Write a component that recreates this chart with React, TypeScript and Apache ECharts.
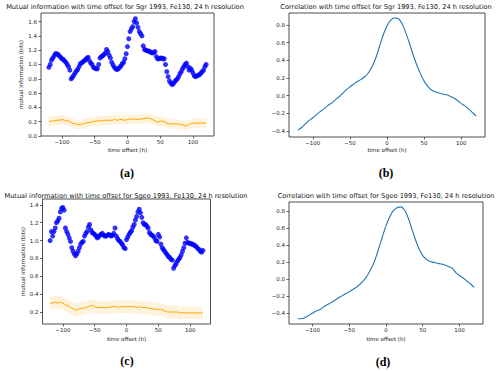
import React, { useEffect, useRef } from "react";
import * as echarts from "echarts";

// time-offset grids (hours)
const miOffsets = Array.from({ length: 121 }, (_, i) => -120 + 2 * i);
const nullOffsets = Array.from({ length: 61 }, (_, i) => -120 + 4 * i);
const corrOffsets = Array.from({ length: 49 }, (_, i) => -120 + 5 * i);

// (a) mutual information, Sgr 1993
const miSgr = [
  0.96, 1.0, 1.06, 1.09, 1.12, 1.15, 1.15, 1.14, 1.12, 1.1, 1.08,
  1.07, 1.05, 1.03, 1.0, 0.97, 0.92, 0.8, 0.82, 0.85, 0.88,
  0.91, 0.93, 0.97, 1.01, 1.02, 1.04, 1.05, 1.07, 1.09, 1.1,
  1.05, 1.02, 1.0, 0.96, 0.95, 0.94, 0.94, 1.0, 1.09, 1.11,
  1.12, 1.14, 1.16, 1.21, 1.18, 1.13, 1.09, 1.03, 0.99, 0.96,
  0.94, 0.93, 0.94, 0.96, 0.98, 1.01, 1.03, 1.08, 1.15, 1.25,
  1.36, 1.46, 1.5, 1.53, 1.6, 1.64, 1.58, 1.52, 1.46, 1.43,
  1.4, 1.26, 1.21, 1.2, 1.19, 1.19, 1.18, 1.17, 1.16, 1.17,
  1.18, 1.11, 1.08, 1.08, 1.09, 1.09, 1.08, 1.08, 1.0, 0.9,
  0.83, 0.77, 0.74, 0.72, 0.73, 0.76, 0.78, 0.8, 0.83, 0.87,
  0.9, 0.94, 0.97, 1.0, 1.02, 0.97, 0.92, 0.95, 0.92, 0.88,
  0.84, 0.83, 0.84, 0.85, 0.86, 0.88, 0.9, 0.92, 0.97, 1.0,
];
const nullSgr = [
  0.2, 0.21, 0.21, 0.22, 0.22, 0.23, 0.22, 0.21, 0.2, 0.18,
  0.17, 0.16, 0.16, 0.17, 0.18, 0.19, 0.19, 0.2, 0.21, 0.21,
  0.21, 0.22, 0.22, 0.22, 0.22, 0.23, 0.22, 0.23, 0.23, 0.22,
  0.23,
  0.24, 0.23, 0.24, 0.23, 0.24, 0.24, 0.25, 0.25, 0.24, 0.22,
  0.2, 0.2, 0.21, 0.2, 0.18, 0.17, 0.17, 0.17, 0.17, 0.16,
  0.16, 0.14, 0.15, 0.17, 0.18, 0.18, 0.18, 0.18, 0.18, 0.18,
];
const nullSpreadSgr = 0.065;

// (b) correlation, Sgr 1993
const corrSgr = [
  -0.39, -0.36, -0.32, -0.28, -0.25, -0.215, -0.18, -0.15, -0.115, -0.085,
  -0.05, -0.015, 0.025, 0.065, 0.1, 0.13, 0.16, 0.185, 0.215, 0.26,
  0.33, 0.43, 0.56, 0.69, 0.79, 0.855, 0.88, 0.875, 0.82, 0.72,
  0.6, 0.47, 0.35, 0.25, 0.165, 0.105, 0.065, 0.045, 0.03, 0.02,
  0.01, -0.005, -0.025, -0.055, -0.09, -0.115, -0.15, -0.19, -0.23,
];

// (c) mutual information, Sgeo 1993
const miSgeo = [
  1.0, 1.1, 1.05, 1.1, 1.14, 1.2, 1.22, 1.25, 1.32, 1.36, 1.37,
  1.34, 1.14, 1.1, 1.07, 1.03, 0.99, 0.92, 0.88, 0.85, 0.83,
  0.85, 0.88, 0.92, 0.96, 0.98, 0.99, 1.05, 1.08, 1.1, 1.15,
  1.18, 1.12, 1.09, 1.08, 1.07, 1.05, 1.03, 1.04, 1.06, 1.07,
  1.08, 1.06, 1.05, 1.05, 1.06, 1.07, 1.06, 1.05, 1.06, 1.08,
  1.14, 1.05, 1.02, 1.0, 0.99, 0.97, 0.95, 0.92, 0.91, 1.01,
  1.04, 1.07, 1.09, 1.11, 1.15, 1.18, 1.23, 1.27, 1.32, 1.35,
  1.31, 1.26, 1.2, 1.18, 1.18, 1.16, 1.14, 1.09, 1.07, 1.06,
  1.05, 1.03, 1.0, 0.99, 1.07, 1.04, 0.96, 0.92, 0.9, 0.88,
  0.86, 0.84, 0.82, 0.81, 0.79, 0.78, 0.69, 0.72, 0.74, 0.77,
  0.79, 0.81, 0.84, 0.88, 0.92, 0.97, 1.03, 0.98, 0.97, 0.97,
  0.96, 0.96, 0.95, 0.94, 0.93, 0.91, 0.9, 0.88, 0.87, 0.89,
];
const nullSgeo = [
  0.3, 0.3, 0.31, 0.3, 0.31, 0.3, 0.28, 0.27, 0.25, 0.24,
  0.22, 0.23, 0.24, 0.24, 0.25, 0.26, 0.27, 0.27, 0.25, 0.25,
  0.25, 0.25, 0.25, 0.25, 0.26, 0.26, 0.26, 0.25, 0.26, 0.26,
  0.26,
  0.26, 0.26, 0.26, 0.25, 0.26, 0.25, 0.25, 0.25, 0.24, 0.24,
  0.23, 0.23, 0.23, 0.23, 0.21, 0.2, 0.2, 0.2, 0.2, 0.2,
  0.19, 0.19, 0.19, 0.19, 0.19, 0.19, 0.19, 0.19, 0.19, 0.19,
];
const nullSpreadSgeo = 0.072;

// (d) correlation, Sgeo 1993
const corrSgeo = [
  -0.465, -0.465, -0.45, -0.425, -0.4, -0.375, -0.36, -0.325, -0.3, -0.275,
  -0.25, -0.22, -0.195, -0.17, -0.145, -0.12, -0.09, -0.055, -0.01, 0.05,
  0.13, 0.23, 0.36, 0.5, 0.63, 0.735, 0.81, 0.845, 0.855, 0.82,
  0.73, 0.6, 0.47, 0.36, 0.28, 0.235, 0.21, 0.2, 0.19, 0.18,
  0.17, 0.15, 0.13, 0.08, 0.045, 0.015, -0.02, -0.055, -0.095,
];

// tick labels
const xTicks = [-100, -50, 0, 50, 100];
const yTicksA = [0, 0.2, 0.4, 0.6, 0.8, 1.0, 1.2, 1.4, 1.6];
const yTicksB = [-0.4, -0.2, 0, 0.2, 0.4, 0.6, 0.8];
const yTicksC = [0.2, 0.4, 0.6, 0.8, 1.0, 1.2, 1.4];
const yTicksD = [-0.4, -0.2, 0, 0.2, 0.4, 0.6, 0.8];

const panelTitles = [
  "Mutual information with time offset for Sgr 1993, Fe130, 24 h resolution",
  "Correlation with time offset for Sgr 1993, Fe130, 24 h resolution",
  "Mutual information with time offset for Sgeo 1993, Fe130, 24 h resolution",
  "Correlation with time offset for Sgeo 1993, Fe130, 24 h resolution",
];
const captions = ["(a)", "(b)", "(c)", "(d)"];
const xName = "time offset (h)";
const yNameMI = "mutual information (bits)";

const FONT = "DejaVu Sans";
const TEXT = "#222";
const minus = (s: string) => s.replace("-", "\u2212");

function xAxisCfg(gridIndex: number, gap: number) {
  return {
    type: "value",
    gridIndex,
    min: -132,
    max: 132,
    name: xName,
    nameLocation: "middle",
    nameGap: gap,
    nameTextStyle: { fontFamily: FONT, fontSize: 5.5, color: TEXT },
    axisLine: { show: false, onZero: false },
    splitLine: { show: false },
    axisTick: { show: true, length: 2.5, customValues: xTicks, lineStyle: { color: TEXT, width: 0.7 } },
    axisLabel: {
      customValues: xTicks,
      margin: 3,
      fontFamily: FONT,
      fontSize: 5.5,
      color: TEXT,
      formatter: (v: number) => minus(String(Math.round(v))),
    },
  };
}

function yAxisCfg(gridIndex: number, min: number, max: number, ticks: number[], name?: string) {
  return {
    type: "value",
    gridIndex,
    min,
    max,
    name: name || "",
    nameLocation: "middle",
    nameGap: 16,
    nameTextStyle: { fontFamily: FONT, fontSize: 5.5, color: TEXT },
    axisLine: { show: false, onZero: false },
    splitLine: { show: false },
    axisTick: { show: true, length: 2.5, customValues: ticks, lineStyle: { color: TEXT, width: 0.7 } },
    axisLabel: {
      customValues: ticks,
      margin: 4,
      fontFamily: FONT,
      fontSize: 5.5,
      color: TEXT,
      formatter: (v: number) => minus(Number(v).toFixed(1)),
    },
  };
}

// shaded band (mean ± spread) drawn as one polygon through the axis scales
function bandSeries(idx: number, mean: number[], spread: number) {
  return [
    {
      type: "custom",
      xAxisIndex: idx,
      yAxisIndex: idx,
      silent: true,
      data: [[0, 0]],
      renderItem: (_params: any, api: any) => {
        const upper = nullOffsets.map((t, i) => api.coord([t, mean[i] + spread]));
        const lower = nullOffsets.map((t, i) => api.coord([t, mean[i] - spread])).reverse();
        return {
          type: "polygon",
          shape: { points: upper.concat(lower) },
          style: { fill: "rgba(255,165,0,0.14)", stroke: "none" },
        };
      },
    },
    {
      type: "line",
      xAxisIndex: idx,
      yAxisIndex: idx,
      data: nullOffsets.map((t, i) => [t, mean[i]]),
      symbol: "none",
      lineStyle: { color: "#ffa500", width: 1 },
    },
  ];
}

const gridStyle = { show: true, borderColor: "#222", borderWidth: 0.8, backgroundColor: "#fff" };

export default function App() {
  const ref = useRef<HTMLDivElement>(null);
  useEffect(() => {
    if (!ref.current) return;
    const chart = echarts.init(ref.current, undefined, { renderer: "svg" });
    const titleCenters = [
      [125, 6.7],
      [386, 6.7],
      [126, 196.3],
      [386, 196],
    ];
    const captionCenters = [
      [127, 172.7],
      [386, 172.7],
      [127, 361],
      [383, 361.5],
    ];
    const graphics: any[] = [];
    panelTitles.forEach((t, i) => {
      graphics.push({
        type: "text",
        x: titleCenters[i][0],
        y: titleCenters[i][1],
        style: {
          text: t,
          fontFamily: FONT,
          fontSize: 6.6,
          fill: "#111",
          align: "center",
          verticalAlign: "middle",
        },
      });
    });
    captions.forEach((c, i) => {
      graphics.push({
        type: "text",
        x: captionCenters[i][0],
        y: captionCenters[i][1],
        style: {
          text: c,
          fontFamily: "Liberation Serif",
          fontWeight: "bold",
          fontSize: 12,
          fill: "#000",
          align: "center",
          verticalAlign: "middle",
        },
      });
    });

    chart.setOption({
      animation: false,
      backgroundColor: "#fff",
      grid: [
        { left: 41, top: 13, width: 173, height: 123, ...gridStyle },
        { left: 289, top: 13, width: 196, height: 124, ...gridStyle },
        { left: 42.5, top: 199, width: 168, height: 125, ...gridStyle },
        { left: 289, top: 202, width: 194, height: 122, ...gridStyle },
      ],
      xAxis: [xAxisCfg(0, 11), xAxisCfg(1, 10), xAxisCfg(2, 11.5), xAxisCfg(3, 11.5)],
      yAxis: [
        yAxisCfg(0, 0, 1.72, yTicksA, yNameMI),
        yAxisCfg(1, -0.468, 0.937, yTicksB),
        yAxisCfg(2, 0.066, 1.465, yTicksC, yNameMI),
        yAxisCfg(3, -0.527, 0.912, yTicksD),
      ],
      graphic: graphics,
      series: [
        ...bandSeries(0, nullSgr, nullSpreadSgr),
        {
          type: "scatter",
          xAxisIndex: 0,
          yAxisIndex: 0,
          data: miOffsets.map((t, i) => [t, miSgr[i]]),
          symbolSize: 5,
          itemStyle: { color: "#0000ff" },
        },
        {
          type: "line",
          xAxisIndex: 1,
          yAxisIndex: 1,
          data: corrOffsets.map((t, i) => [t, corrSgr[i]]),
          symbol: "none",
          smooth: 0.3,
          lineStyle: { color: "#1f77b4", width: 1.1 },
        },
        ...bandSeries(2, nullSgeo, nullSpreadSgeo),
        {
          type: "scatter",
          xAxisIndex: 2,
          yAxisIndex: 2,
          data: miOffsets.map((t, i) => [t, miSgeo[i]]),
          symbolSize: 5,
          itemStyle: { color: "#0000ff" },
        },
        {
          type: "line",
          xAxisIndex: 3,
          yAxisIndex: 3,
          data: corrOffsets.map((t, i) => [t, corrSgeo[i]]),
          symbol: "none",
          smooth: 0.3,
          lineStyle: { color: "#1f77b4", width: 1.1 },
        },
      ],
    });
    return () => chart.dispose();
  }, []);
  return (
    <div
      ref={ref}
      style={{ position: "fixed", left: 0, top: 0, width: 500, height: 371, background: "#fff" }}
    />
  );
}
